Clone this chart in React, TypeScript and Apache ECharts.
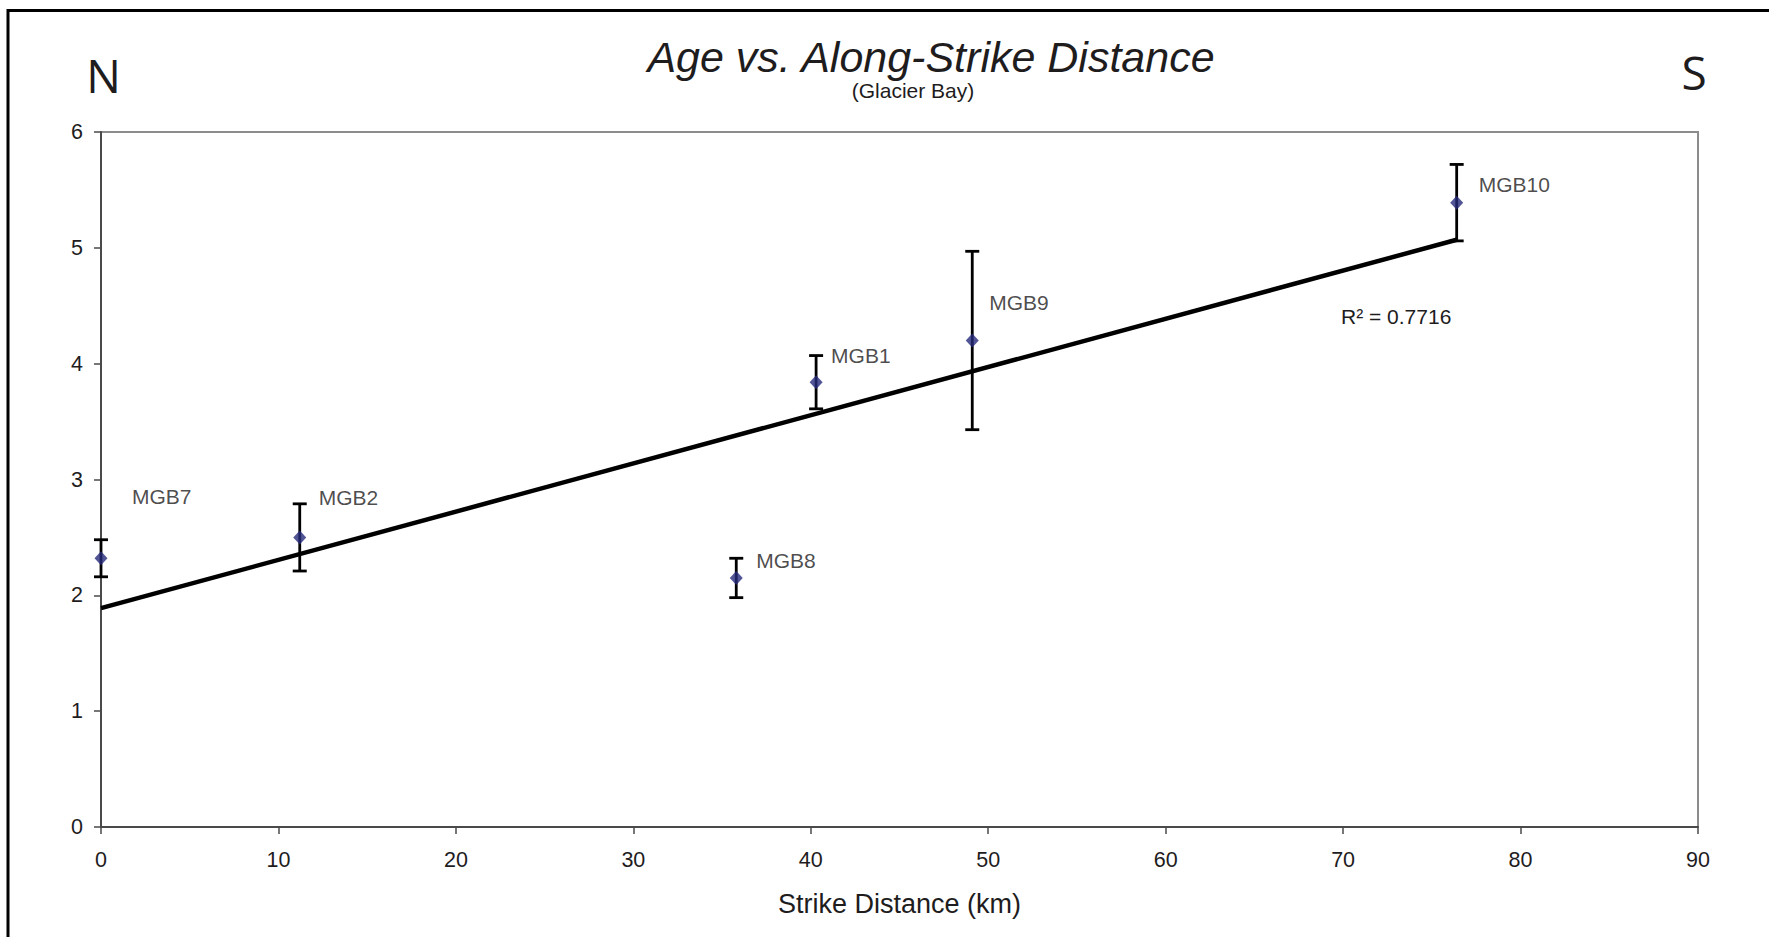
import React, { useEffect, useRef } from "react";
import * as echarts from "echarts";

// Sample data: along-strike distance (km), age and its uncertainty
const samples = ["MGB7", "MGB2", "MGB8", "MGB1", "MGB9", "MGB10"];
const distanceKm = [0, 11.2, 35.8, 40.3, 49.1, 76.4];
const age = [2.32, 2.5, 2.15, 3.84, 4.2, 5.39];
const ageError = [0.16, 0.29, 0.17, 0.23, 0.77, 0.33];

// Linear trendline end points and its fit statistic
const trendX = [0, 76.4];
const trendY = [1.89, 5.07];
const rSquared = "0.7716";

// Axis ranges
const xRange = { min: 0, max: 90, step: 10 };
const yRange = { min: 0, max: 6, step: 1 };

// Pixel offsets of each sample label from its marker (left edge, middle)
const labelOffsets: [number, number][] = [
  [31, -62],
  [19, -40],
  [20, -17],
  [15, -27],
  [17, -38],
  [22, -18],
];

const FONT = "'Liberation Sans', Arial, sans-serif";
const TEXT = "#1e1c1d";

export default function App() {
  const ref = useRef<HTMLDivElement>(null);

  useEffect(() => {
    if (!ref.current) return;
    const chart = echarts.init(ref.current, undefined, { renderer: "svg" });

    const points = samples.map((name, i) => ({
      name,
      value: [distanceKm[i], age[i]],
      label: { offset: labelOffsets[i] },
    }));
    const bars = samples.map((_, i) => [
      distanceKm[i],
      age[i] - ageError[i],
      age[i] + ageError[i],
    ]);
    const trend = trendX.map((x, i) => [x, trendY[i]]);

    chart.setOption({
      animation: false,
      backgroundColor: "#ffffff",
      grid: {
        left: 101,
        top: 132,
        right: 71,
        bottom: 110,
        show: true,
        borderColor: "#8c8c8c",
        borderWidth: 2,
        backgroundColor: "#ffffff",
      },
      xAxis: {
        type: "value",
        min: xRange.min,
        max: xRange.max,
        interval: xRange.step,
        name: "Strike Distance (km)",
        nameLocation: "middle",
        nameGap: 63,
        nameTextStyle: { fontFamily: FONT, fontSize: 27, color: TEXT },
        axisLine: { show: true, onZero: false, lineStyle: { color: "#4a4a4a", width: 2 } },
        axisTick: { show: true, length: 7, lineStyle: { color: "#4a4a4a", width: 1.5 } },
        axisLabel: { fontFamily: FONT, fontSize: 21.5, color: TEXT, margin: 22 },
        splitLine: { show: false },
      },
      yAxis: {
        type: "value",
        min: yRange.min,
        max: yRange.max,
        interval: yRange.step,
        axisLine: { show: true, onZero: false, lineStyle: { color: "#4a4a4a", width: 2 } },
        axisTick: { show: true, length: 7, lineStyle: { color: "#4a4a4a", width: 1.5 } },
        axisLabel: { fontFamily: FONT, fontSize: 21.5, color: TEXT, margin: 18 },
        splitLine: { show: false },
      },
      graphic: [
        {
          type: "rect",
          shape: { x: 8, y: 10.5, width: 1800, height: 1000 },
          style: { fill: "none", stroke: "#000000", lineWidth: 3 },
          silent: true,
          z: 100,
        },
        {
          type: "text",
          x: 931,
          y: 56.5,
          style: {
            text: "Age vs. Along-Strike Distance",
            fontFamily: FONT,
            fontStyle: "italic",
            fontSize: 43,
            fill: TEXT,
            align: "center",
            verticalAlign: "middle",
          },
        },
        {
          type: "text",
          x: 913,
          y: 90,
          style: {
            text: "(Glacier Bay)",
            fontFamily: FONT,
            fontSize: 21,
            fill: TEXT,
            align: "center",
            verticalAlign: "middle",
          },
        },
        {
          type: "text",
          x: 103.5,
          y: 75,
          style: {
            text: "N",
            fontFamily: "'Open Sans', sans-serif",
            fontSize: 46,
            fill: TEXT,
            align: "center",
            verticalAlign: "middle",
          },
        },
        {
          type: "text",
          x: 1694,
          y: 72,
          style: {
            text: "S",
            fontFamily: "'Open Sans', sans-serif",
            fontSize: 46,
            fill: TEXT,
            align: "center",
            verticalAlign: "middle",
          },
        },
        {
          type: "text",
          x: 1341,
          y: 316,
          style: {
            text: "R\u00b2 = " + rSquared,
            fontFamily: FONT,
            fontSize: 21,
            fill: TEXT,
            align: "left",
            verticalAlign: "middle",
          },
        },
      ],
      series: [
        {
          type: "custom",
          name: "error",
          data: bars,
          clip: false,
          z: 3,
          renderItem: (params: any, api: any) => {
            const x = api.value(0);
            const top = api.coord([x, api.value(2)]);
            const bot = api.coord([x, api.value(1)]);
            const cap = 7;
            const style = { stroke: "#000000", lineWidth: 2.8 };
            return {
              type: "group",
              children: [
                { type: "line", shape: { x1: top[0], y1: top[1], x2: bot[0], y2: bot[1] }, style },
                { type: "line", shape: { x1: top[0] - cap, y1: top[1], x2: top[0] + cap, y2: top[1] }, style },
                { type: "line", shape: { x1: bot[0] - cap, y1: bot[1], x2: bot[0] + cap, y2: bot[1] }, style },
              ],
            };
          },
        },
        {
          type: "line",
          name: "trend",
          data: trend,
          symbol: "none",
          clip: false,
          z: 4,
          lineStyle: { color: "#000000", width: 4.5 },
        },
        {
          type: "scatter",
          name: "samples",
          data: points,
          symbol: "diamond",
          symbolSize: [13, 14],
          clip: false,
          z: 5,
          itemStyle: { color: "#272b7a" },
          label: {
            show: true,
            position: "inside",
            formatter: "{b}",
            align: "left",
            verticalAlign: "middle",
            fontFamily: FONT,
            fontSize: 21,
            color: TEXT,
          },
        },
      ],
    });

    return () => chart.dispose();
  }, []);

  return (
    <div
      ref={ref}
      style={{ position: "fixed", left: 0, top: 0, width: 1769, height: 937, background: "#fff" }}
    />
  );
}
